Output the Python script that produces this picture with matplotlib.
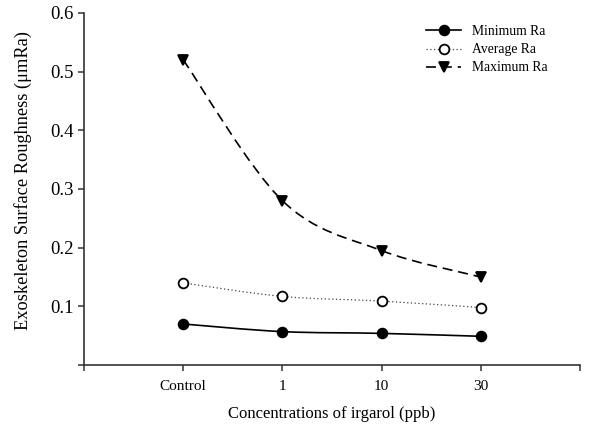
import numpy as np
import matplotlib
matplotlib.use("Agg")
import matplotlib.pyplot as plt
from matplotlib.path import Path
from matplotlib.patches import PathPatch
from matplotlib.lines import Line2D

plt.rcParams['font.family'] = ['Liberation Serif', 'DejaVu Serif']

categories = ["Control", "1", "10", "30"]
min_ra = [0.070, 0.057, 0.054, 0.049]
avg_ra = [0.140, 0.117, 0.109, 0.098]
max_ra = [0.520, 0.280, 0.195, 0.150]


def smooth_path(x, y):
    # Catmull-Rom through the points, written as cubic Bezier segments
    pts = np.column_stack([x, y]).astype(float)
    verts = [pts[0]]
    codes = [Path.MOVETO]
    n = len(pts)
    for i in range(n - 1):
        p0 = pts[i - 1] if i > 0 else pts[i]
        p1, p2 = pts[i], pts[i + 1]
        p3 = pts[i + 2] if i + 2 < n else pts[i + 1]
        c1 = p1 + (p2 - p0) / 6.0
        c2 = p2 - (p3 - p1) / 6.0
        verts += [c1, c2, p2]
        codes += [Path.CURVE4] * 3
    return Path(verts, codes)


fig = plt.figure(figsize=(6.15, 4.29), dpi=100)
ax = fig.add_axes([0.1366, 0.149, 0.8065, 0.821])

xs = np.arange(len(categories))
# values, line style, marker, face colour, label, line width, line colour
series = [
    (min_ra, '-', 'o', 'black', 'Minimum Ra', 1.2, 'black'),
    (avg_ra, (0, (1, 2)), 'o', 'white', 'Average Ra', 0.9, '#444444'),
    (max_ra, (0, (6, 3.5)), 'v', 'black', 'Maximum Ra', 1.2, 'black'),
]
handles = []
for vals, ls, mk, fc, lab, lw, lc in series:
    patch = PathPatch(smooth_path(xs, vals), facecolor='none', edgecolor=lc,
                      lw=lw, linestyle=ls, zorder=2)
    ax.add_patch(patch)
    ms = 7 if mk == 'o' else 7.5
    ax.plot(xs, vals, linestyle='none', marker=mk, ms=ms,
            mfc=fc, mec='black', mew=1.3, zorder=3)
    handles.append(Line2D([], [], color=lc, linestyle=ls, lw=lw, marker=mk,
                          ms=ms, mfc=fc, mec='black', mew=1.3))

ax.set_xlim(-1, 4)
ax.set_ylim(0, 0.6)
ax.set_xticks(np.arange(-1, 5))
ax.set_xticklabels([""] + categories + [""])
ax.set_yticks([0, 0.1, 0.2, 0.3, 0.4, 0.5, 0.6])
ax.set_yticklabels(["", "0.1", "0.2", "0.3", "0.4", "0.5", "0.6"])
ax.spines['top'].set_visible(False)
ax.spines['right'].set_visible(False)
for s in ('left', 'bottom'):
    ax.spines[s].set_linewidth(1.2)
    ax.spines[s].set_color('#333333')
ax.tick_params(direction='out', length=4, width=1.1, color='#333333')
ax.tick_params(axis='x', labelsize=11, pad=7)
ax.tick_params(axis='y', labelsize=13.5, pad=3.5)

ax.set_xlabel("Concentrations of irgarol (ppb)", fontsize=12)
ax.xaxis.set_label_coords(0.5, -0.116)
ax.set_ylabel("Exoskeleton Surface Roughness (\u03bcmRa)", fontsize=13.2)
ax.yaxis.set_label_coords(-0.105, 0.525)

ax.legend(handles, [s[4] for s in series], loc='upper right', frameon=False,
          fontsize=9.8, bbox_to_anchor=(0.96, 1.0), handlelength=2.6,
          labelspacing=0.38)

fig.savefig("out.png", dpi=100)
